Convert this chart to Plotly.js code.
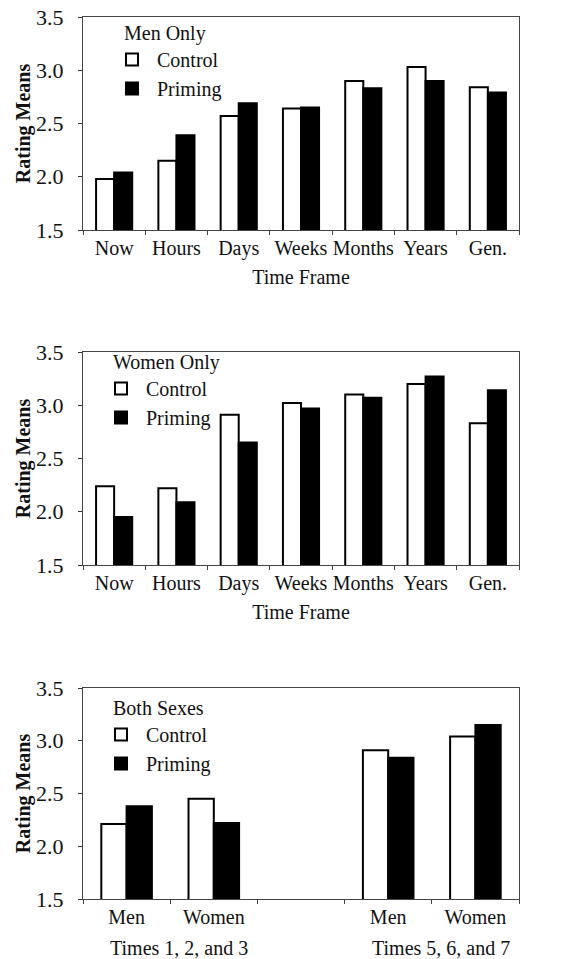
<!DOCTYPE html>
<html>
<head>
<meta charset="utf-8">
<script src="https://cdn.plot.ly/plotly-3.0.1.min.js"></script>
<style>html,body{margin:0;padding:0;background:#fff;}#chart{width:561px;height:959px;}</style>
</head>
<body>
<div id="chart"></div>
<script>
// ---- data ----
const timeFrames = ['Now', 'Hours', 'Days', 'Weeks', 'Months', 'Years', 'Gen.'];
const menControl = [1.98, 2.15, 2.57, 2.64, 2.90, 3.03, 2.84];
const menPriming = [2.04, 2.39, 2.69, 2.65, 2.83, 2.90, 2.79];
const womenControl = [2.24, 2.22, 2.91, 3.02, 3.10, 3.20, 2.83];
const womenPriming = [1.95, 2.09, 2.65, 2.97, 3.07, 3.27, 3.14];
const bothCategories = ['Men T123', 'Women T123', 'gap', 'Men T567', 'Women T567'];
const bothTickText = ['Men', 'Women', '', 'Men', 'Women'];
const bothControl = [2.21, 2.45, null, 2.91, 3.04];
const bothPriming = [2.38, 2.22, null, 2.84, 3.15];
const groupLabels = ['Times 1, 2, and 3', 'Times 5, 6, and 7'];
const legendTitles = ['Men Only', 'Women Only', 'Both Sexes'];
const seriesNames = ['Control', 'Priming'];
const yTicks = [1.5, 2.0, 2.5, 3.0, 3.5];

// ---- styling ----
const FONT = 'Liberation Serif, Times New Roman, serif';
const ctrlStyle = {color: '#ffffff', line: {color: '#000000', width: 2}};
const primStyle = {color: '#000000', line: {color: '#000000', width: 2}};

function pair(x, c, p, xa, ya, lg) {
  return [
    {type: 'bar', x: x, y: c, name: seriesNames[0], marker: ctrlStyle, xaxis: xa, yaxis: ya, legend: lg},
    {type: 'bar', x: x, y: p, name: seriesNames[1], marker: primStyle, xaxis: xa, yaxis: ya, legend: lg}
  ];
}

const data = [].concat(
  pair(timeFrames, menControl, menPriming, 'x', 'y', 'legend'),
  pair(timeFrames, womenControl, womenPriming, 'x2', 'y2', 'legend2'),
  pair(bothCategories, bothControl, bothPriming, 'x3', 'y3', 'legend3')
);

const H = 959, W = 561;
function py(px) { return 1 - px / H; }

function yax(top, bottom, anchor) {
  return {
    domain: [py(bottom), py(top)], range: [1.5, 3.5], anchor: anchor, tickvals: yTicks,
    ticktext: yTicks.map(v => v.toFixed(1)), ticks: 'outside', ticklen: 4, tickcolor: '#333',
    ticklabelstandoff: 10,
    showline: true, mirror: true, linecolor: '#444', linewidth: 1, showgrid: false, zeroline: false,
    tickfont: {family: FONT, size: 22, color: '#111'},
    title: {text: 'Rating Means', font: {family: FONT, size: 20, color: '#111', weight: 'bold'}, standoff: 0},
    fixedrange: true
  };
}
function xax(anchor, extra) {
  return Object.assign({
    domain: [83 / W, 519 / W], anchor: anchor, type: 'category', tickangle: 0,
    ticks: 'outside', tickson: 'boundaries', ticklen: 4, tickcolor: '#444',
    showline: true, mirror: true, linecolor: '#444', linewidth: 1, showgrid: false,
    tickfont: {family: FONT, size: 20, color: '#111'}, fixedrange: true
  }, extra);
}

function legendAt(xpx, ypx, title) {
  return {
    x: xpx / W, y: py(ypx), xanchor: 'left', yanchor: 'top', xref: 'paper', yref: 'paper',
    bgcolor: 'rgba(0,0,0,0)', borderwidth: 0, itemwidth: 40,
    font: {family: FONT, size: 20, color: '#111'},
    title: {text: '&nbsp;&nbsp;&nbsp;' + title, font: {family: FONT, size: 20, color: '#111'}, side: 'top'},
    tracegroupgap: 0
  };
}

const xTitle = {text: 'Time Frame', font: {family: FONT, size: 20, color: '#111'}, standoff: 10};

const layout = {
  width: W, height: H,
  margin: {l: 0, r: 0, t: 0, b: 0},
  paper_bgcolor: '#ffffff', plot_bgcolor: '#ffffff',
  barmode: 'group', bargap: 0.42, bargroupgap: 0,
  showlegend: true,
  font: {family: FONT, color: '#111'},
  xaxis: xax('y', {title: xTitle}),
  yaxis: yax(17, 230, 'x'),
  xaxis2: xax('y2', {title: xTitle}),
  yaxis2: yax(352, 565, 'x2'),
  xaxis3: xax('y3', {tickmode: 'array', tickvals: bothCategories, ticktext: bothTickText,
                      categoryorder: 'array', categoryarray: bothCategories}),
  yaxis3: yax(688, 899, 'x3'),
  legend: legendAt(107, 14, legendTitles[0]),
  legend2: legendAt(96, 343, legendTitles[1]),
  legend3: legendAt(96, 689, legendTitles[2]),
  annotations: [
    {xref: 'x3', yref: 'paper', x: 0.6, y: py(948), text: groupLabels[0], showarrow: false,
     font: {family: FONT, size: 20, color: '#111'}, xanchor: 'center', yanchor: 'middle'},
    {xref: 'x3', yref: 'paper', x: 3.6, y: py(948), text: groupLabels[1], showarrow: false,
     font: {family: FONT, size: 20, color: '#111'}, xanchor: 'center', yanchor: 'middle'}
  ]
};

Plotly.newPlot('chart', data, layout, {staticPlot: true, displayModeBar: false});
</script>
</body>
</html>
